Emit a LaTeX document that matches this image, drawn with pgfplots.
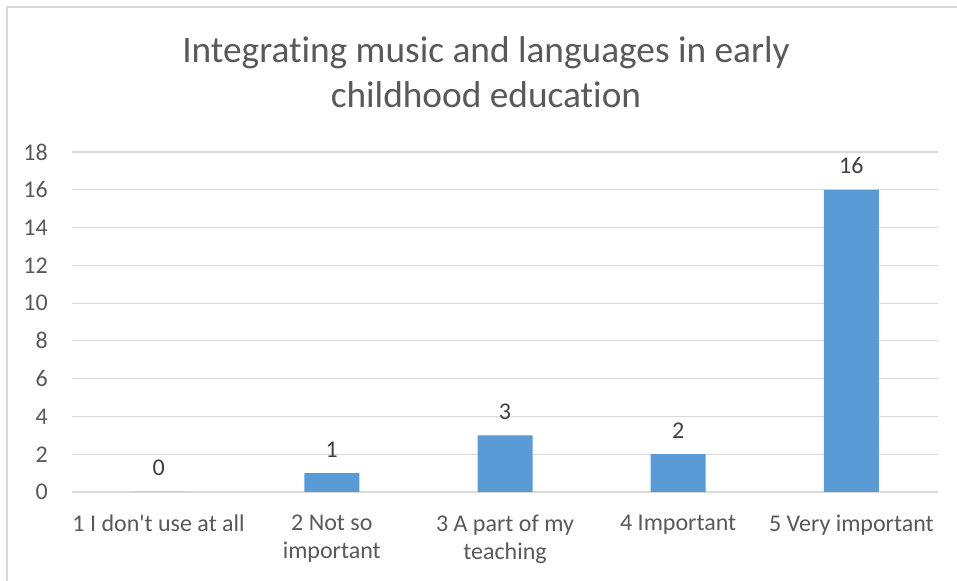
\documentclass[border=0pt]{standalone}
\usepackage{pgfplots}
\pgfplotsset{compat=1.18}
\usepackage{fontspec}
\setmainfont{Carlito}[Ligatures={NoCommon}]
\definecolor{barblue}{HTML}{5B9BD5}
\definecolor{gridgray}{HTML}{D9D9D9}
\definecolor{txtgray}{HTML}{595959}
\definecolor{lbl}{HTML}{404040}
\begin{document}
\begin{tikzpicture}
\useasboundingbox (0,0) rectangle (717.75pt,435.75pt);
\fill[white] (0,0) rectangle (717.75pt,435.75pt);
\draw[gridgray, line width=1.2pt] ({7*0.75pt},0) -- ({7*0.75pt},{574*0.75pt}) -- (717.75pt,{574*0.75pt});
\node[anchor=base, align=center, text=txtgray, font=\fontsize{28}{33.75}\selectfont, inner sep=0pt]
  at ({486*0.75pt},{(581-108)*0.75pt}) {Integrating music and languages in early\\childhood education};
\begin{axis}[
  at={(54pt,66.75pt)}, anchor=south west,
  scale only axis, width=649.5pt, height=255pt,
  ybar, bar width=41.25pt,
  xmin=-0.5, xmax=4.5, ymin=0, ymax=18,
  ytick={0,2,...,18},
  xtick={0,1,2,3,4},
  xticklabels={{1 I don\textquotesingle t use at all},{2 Not so\\important},{3 A part of my\\teaching},{4 Important},{5 Very important}},
  axis line style={draw=none},
  major tick length=0pt,
  ymajorgrids, major grid style={gridgray, line width=0.9pt},
  tick label style={text=txtgray, font=\fontsize{18}{21}\selectfont},
  /pgf/number format/assume math mode=true,
  yticklabel style={anchor=east, inner sep=0pt, xshift=-18pt},
  xticklabel style={anchor=north, inner sep=0pt, align=center, yshift=-17pt},
  nodes near coords,
  every node near coord/.append style={text=lbl, font=\fontsize{18}{21}\selectfont, anchor=base, inner sep=0pt, yshift=12pt},
]
\addplot[fill=barblue, draw=none] coordinates {(0,0) (1,1) (2,3) (3,2) (4,16)};
\end{axis}
\end{tikzpicture}
\end{document}
